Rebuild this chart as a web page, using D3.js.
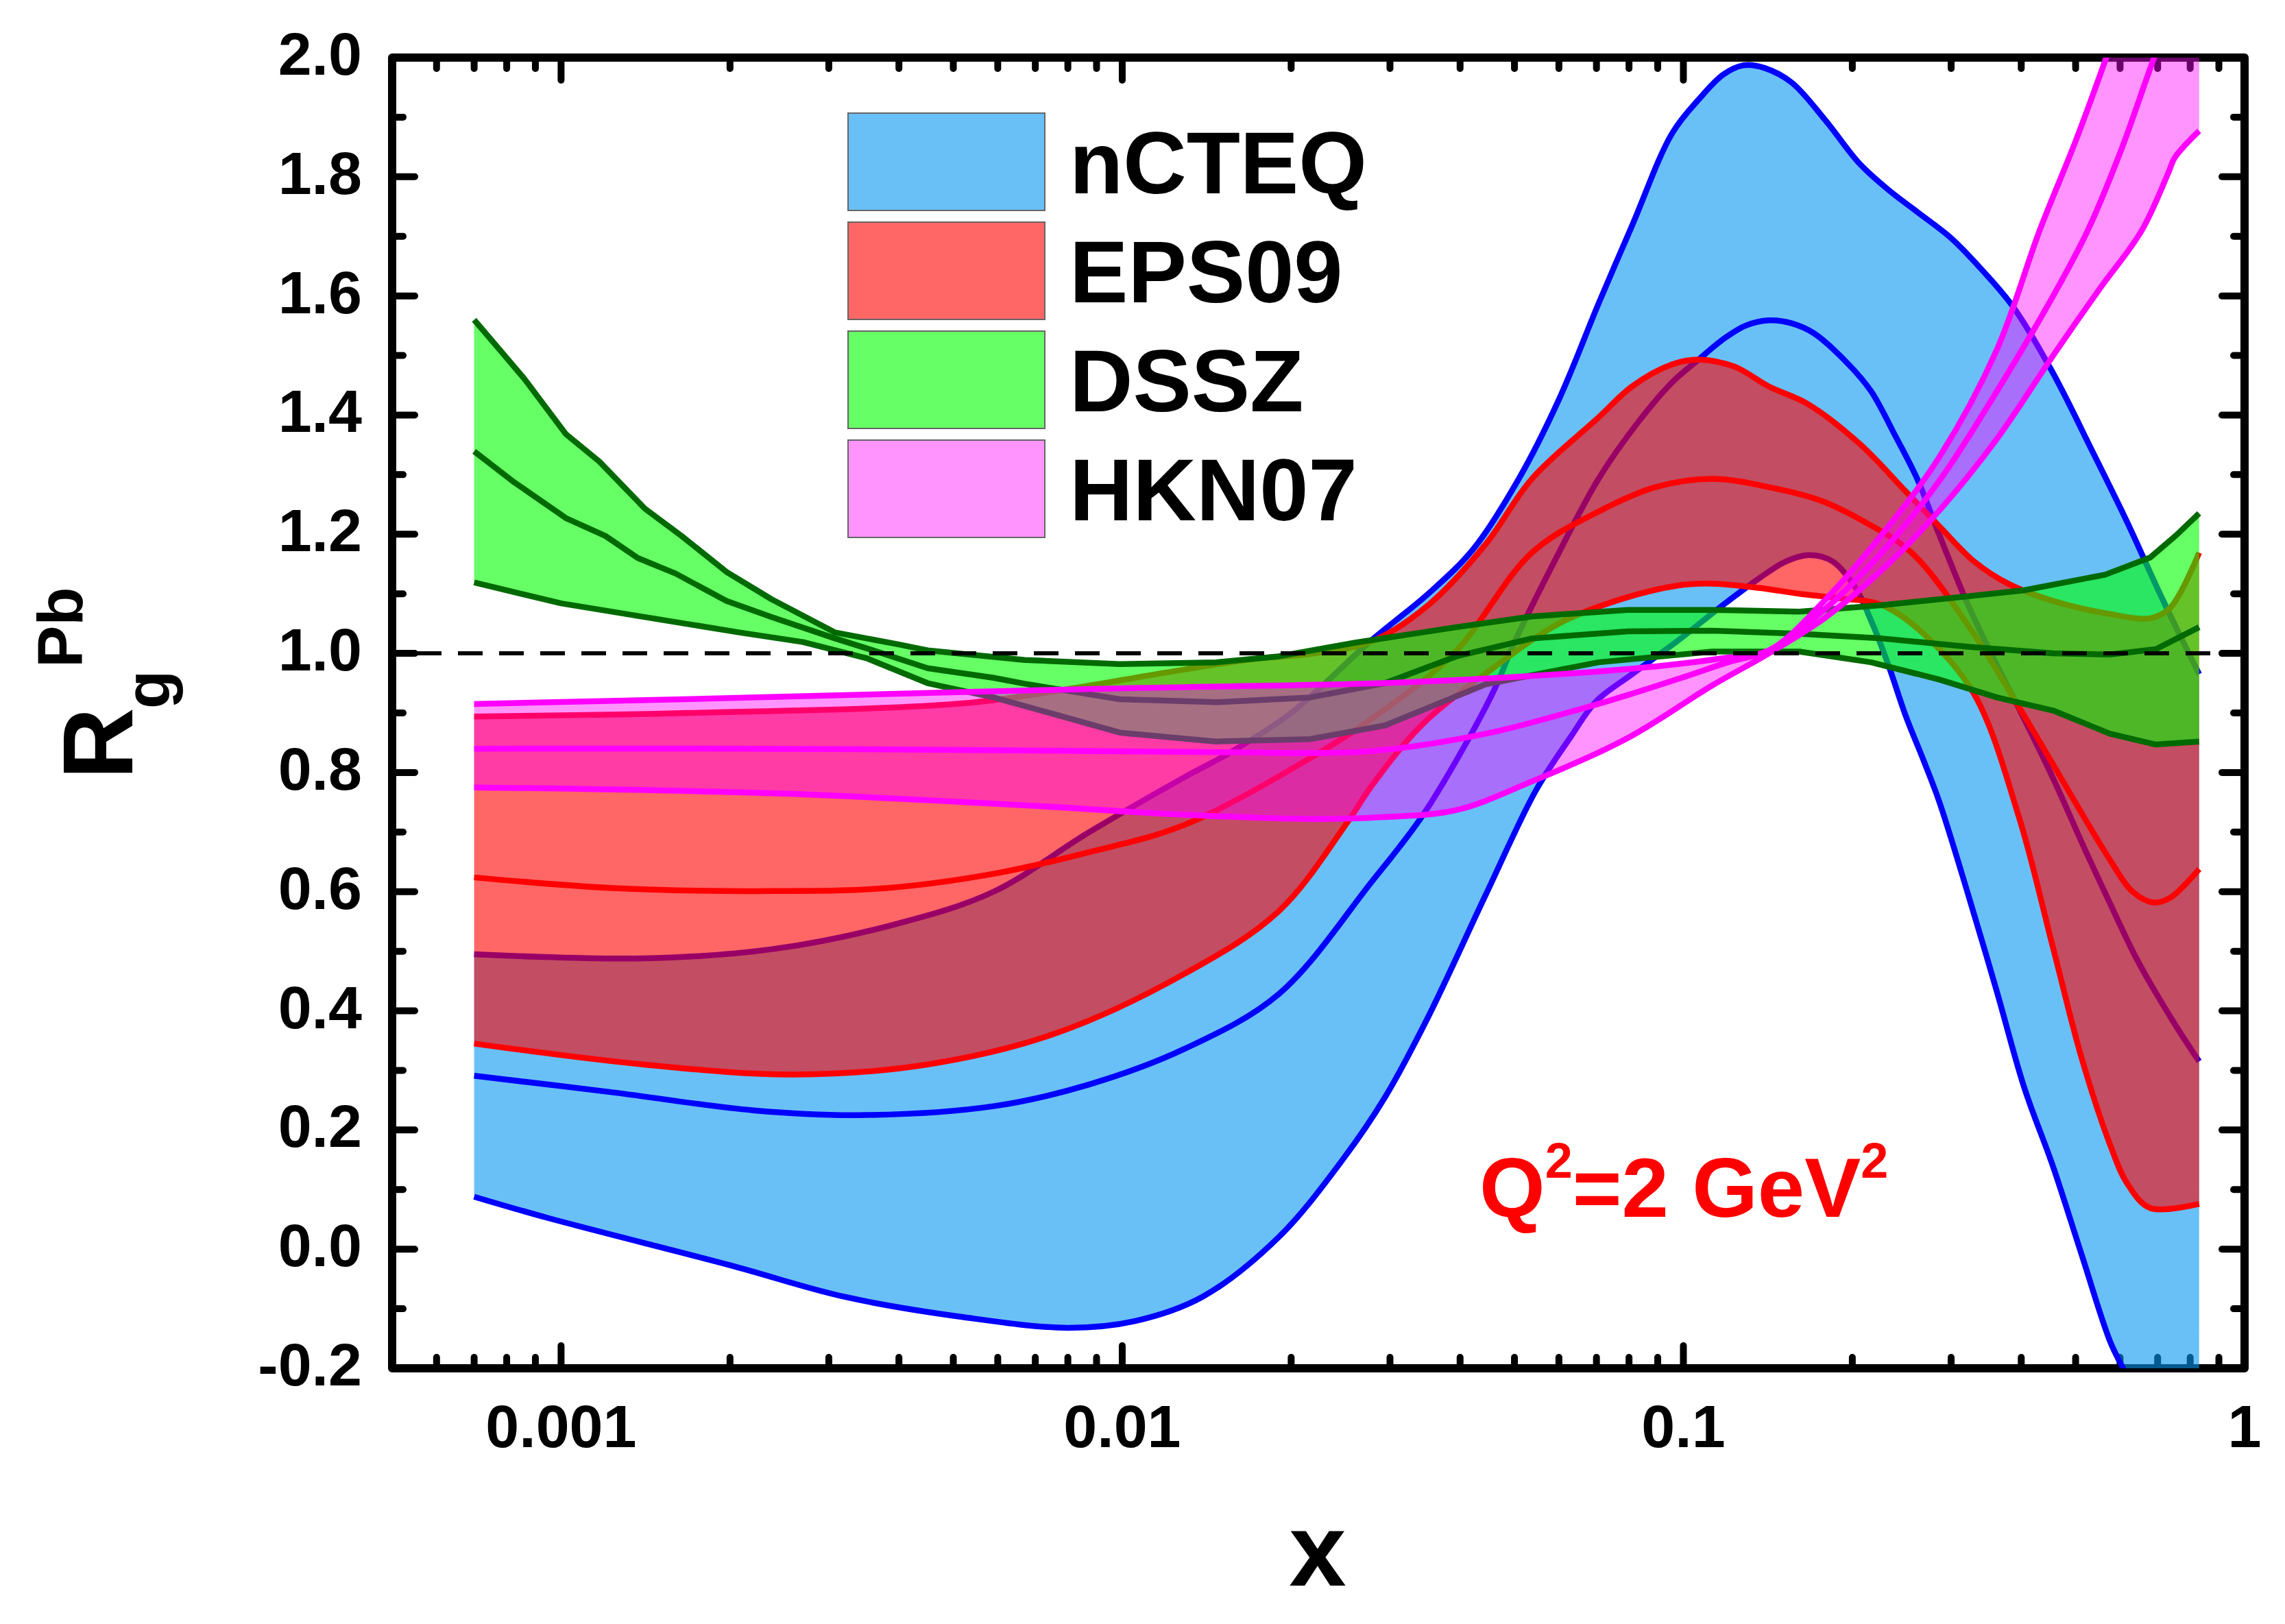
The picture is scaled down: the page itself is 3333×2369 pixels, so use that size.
<!DOCTYPE html>
<html lang="en">
<head>
<meta charset="UTF-8">
<title>R_g^Pb at Q2 = 2 GeV2</title>
<script src="https://cdnjs.cloudflare.com/ajax/libs/d3/7.8.5/d3.min.js"></script>
<style>
  body { margin: 0; background: #fff; }
  svg { display: block; font-family: Arial, "Liberation Sans", sans-serif; font-weight: bold; }
</style>
</head>
<body>
<svg width="3333" height="2369"></svg>
<script>
// ---- data (x, R) ----
const xTickValues = [0.001, 0.01, 0.1, 1];
const xTickLabels = ["0.001", "0.01", "0.1", "1"];
const yTickValues = [-0.2, 0.0, 0.2, 0.4, 0.6, 0.8, 1.0, 1.2, 1.4, 1.6, 1.8, 2.0];
const yTickLabels = ["-0.2", "0.0", "0.2", "0.4", "0.6", "0.8", "1.0", "1.2", "1.4", "1.6", "1.8", "2.0"];
const legendNames = ["nCTEQ", "EPS09", "DSSZ", "HKN07"];

const nCTEQ_upper = [[0.0007,0.495],[0.0014,0.488],[0.0024,0.504],[0.004,0.547],[0.0059,0.600],[0.0087,0.699],[0.0129,0.792],[0.0154,0.831],[0.02,0.90],[0.0278,1.022],[0.0351,1.10],[0.0423,1.176],[0.0509,1.293],[0.060,1.426],[0.0706,1.587],[0.0811,1.719],[0.0955,1.873],[0.107,1.932],[0.118,1.972],[0.128,1.987],[0.140,1.982],[0.156,1.958],[0.179,1.895],[0.206,1.822],[0.232,1.778],[0.261,1.741],[0.300,1.697],[0.344,1.639],[0.388,1.580],[0.456,1.470],[0.537,1.337],[0.618,1.220],[0.71,1.096],[0.83,0.965]];
const nCTEQ_central = [[0.0007,0.291],[0.00124,0.263],[0.0022,0.233],[0.0034,0.225],[0.0059,0.240],[0.0087,0.276],[0.0129,0.336],[0.019,0.428],[0.0278,0.616],[0.0342,0.726],[0.0415,0.858],[0.0464,0.946],[0.0498,1.015],[0.060,1.169],[0.0706,1.293],[0.0832,1.389],[0.0955,1.455],[0.107,1.495],[0.118,1.528],[0.129,1.550],[0.142,1.559],[0.156,1.554],[0.171,1.537],[0.197,1.485],[0.216,1.44],[0.238,1.367],[0.261,1.293],[0.286,1.198],[0.322,1.08],[0.362,0.98],[0.40,0.90],[0.456,0.79],[0.52,0.67],[0.576,0.58],[0.64,0.49],[0.695,0.43],[0.76,0.37],[0.83,0.315]];
const nCTEQ_lower = [[0.0007,0.088],[0.00095,0.052],[0.002,-0.027],[0.0032,-0.080],[0.0052,-0.114],[0.008,-0.132],[0.0105,-0.121],[0.0139,-0.080],[0.019,0.02],[0.0247,0.15],[0.0294,0.255],[0.0351,0.39],[0.0444,0.594],[0.0546,0.770],[0.063,0.86],[0.070,0.92],[0.081,0.965],[0.098,1.022],[0.115,1.074],[0.136,1.125],[0.152,1.154],[0.167,1.165],[0.184,1.155],[0.202,1.112],[0.216,1.055],[0.232,0.980],[0.249,0.895],[0.268,0.82],[0.286,0.75],[0.322,0.594],[0.362,0.432],[0.405,0.271],[0.456,0.138],[0.512,-0.008],[0.576,-0.155],[0.611,-0.205],[0.7,-0.33],[0.83,-0.48]];

const EPS09_upper = [[0.0007,0.894],[0.0017,0.900],[0.0052,0.916],[0.008,0.94],[0.012,0.968],[0.017,0.99],[0.022,1.0],[0.0278,1.02],[0.0351,1.081],[0.0444,1.183],[0.0537,1.293],[0.0706,1.396],[0.081,1.448],[0.0955,1.485],[0.107,1.493],[0.1235,1.481],[0.142,1.448],[0.167,1.418],[0.206,1.352],[0.249,1.272],[0.286,1.213],[0.33,1.154],[0.379,1.117],[0.456,1.088],[0.576,1.066],[0.679,1.059],[0.738,1.077],[0.83,1.169]];
const EPS09_central = [[0.0007,0.624],[0.00124,0.606],[0.0024,0.601],[0.0038,0.606],[0.0059,0.630],[0.0087,0.666],[0.0129,0.712],[0.0216,0.824],[0.0278,0.89],[0.039,1.0],[0.0537,1.169],[0.0706,1.238],[0.0892,1.279],[0.1125,1.293],[0.142,1.279],[0.175,1.257],[0.211,1.220],[0.255,1.169],[0.32,1.05],[0.414,0.88],[0.49,0.763],[0.576,0.653],[0.63,0.601],[0.687,0.582],[0.738,0.590],[0.83,0.638]];
const EPS09_lower = [[0.0007,0.345],[0.0014,0.310],[0.0026,0.293],[0.0045,0.310],[0.0076,0.362],[0.0129,0.462],[0.019,0.567],[0.0253,0.719],[0.0278,0.777],[0.0342,0.88],[0.045,0.97],[0.06,1.05],[0.0757,1.088],[0.098,1.114],[0.1125,1.117],[0.136,1.110],[0.164,1.099],[0.192,1.092],[0.226,1.081],[0.27,1.03],[0.33,0.931],[0.396,0.726],[0.456,0.505],[0.512,0.322],[0.576,0.175],[0.618,0.110],[0.679,0.069],[0.83,0.076]];

const DSSZ_upper = [[0.0007,1.56],[0.00086,1.461],[0.00102,1.368],[0.00117,1.322],[0.00141,1.243],[0.00164,1.197],[0.00197,1.137],[0.00237,1.091],[0.00308,1.035],[0.004,1.015],[0.0045,1.005],[0.0067,0.989],[0.0099,0.982],[0.0147,0.985],[0.019,0.995],[0.026,1.018],[0.0394,1.044],[0.0537,1.062],[0.0796,1.073],[0.1125,1.073],[0.161,1.070],[0.226,1.081],[0.322,1.096],[0.405,1.106],[0.564,1.132],[0.679,1.161],[0.755,1.198],[0.83,1.235]];
const DSSZ_central = [[0.0007,1.339],[0.00082,1.289],[0.00102,1.227],[0.0012,1.197],[0.00137,1.160],[0.0016,1.134],[0.00197,1.088],[0.00237,1.061],[0.00308,1.025],[0.0036,1.005],[0.0045,0.975],[0.0059,0.959],[0.0067,0.949],[0.0099,0.923],[0.0147,0.918],[0.0216,0.926],[0.0294,0.950],[0.0394,0.995],[0.0537,1.025],[0.0796,1.037],[0.1125,1.038],[0.161,1.033],[0.226,1.025],[0.322,1.011],[0.456,1.0],[0.576,0.998],[0.695,1.007],[0.83,1.044]];
const DSSZ_lower = [[0.0007,1.119],[0.001,1.084],[0.00141,1.061],[0.00208,1.035],[0.0027,1.019],[0.0035,0.992],[0.0045,0.950],[0.0059,0.926],[0.0079,0.893],[0.0099,0.867],[0.0147,0.852],[0.0216,0.856],[0.0294,0.879],[0.0444,0.948],[0.0706,0.985],[0.1125,1.003],[0.161,1.003],[0.216,0.985],[0.286,0.956],[0.362,0.926],[0.456,0.904],[0.576,0.865],[0.695,0.847],[0.83,0.852]];

const HKN07_upper = [[0.0007,0.915],[0.002,0.925],[0.0052,0.935],[0.0107,0.942],[0.029,0.950],[0.0537,0.962],[0.089,0.978],[0.118,0.992],[0.142,1.005],[0.179,1.09],[0.226,1.20],[0.286,1.33],[0.362,1.51],[0.431,1.709],[0.50,1.86],[0.567,2.0],[0.7,2.25],[0.83,2.45]];
const HKN07_central = [[0.0007,0.840],[0.0022,0.840],[0.0067,0.837],[0.015,0.834],[0.0278,0.836],[0.0444,0.865],[0.063,0.902],[0.0796,0.93],[0.1,0.96],[0.12,0.985],[0.142,1.005],[0.179,1.075],[0.226,1.17],[0.286,1.29],[0.362,1.44],[0.456,1.60],[0.525,1.709],[0.60,1.84],[0.69,2.0],[0.83,2.2]];
const HKN07_lower = [[0.0007,0.775],[0.0024,0.765],[0.0067,0.745],[0.0129,0.729],[0.0216,0.722],[0.029,0.725],[0.0394,0.737],[0.0537,0.785],[0.0796,0.858],[0.1125,0.946],[0.142,1.0],[0.179,1.06],[0.226,1.14],[0.286,1.24],[0.362,1.36],[0.456,1.50],[0.55,1.61],[0.655,1.709],[0.731,1.806],[0.751,1.832],[0.83,1.877]];

// ---- layout ----
const svg = d3.select("svg");
const plot = { left: 572, right: 3274, top: 84, bottom: 1996 };

const x = d3.scaleLog().domain([0.0005, 1]).range([plot.left, plot.right]);
const y = d3.scaleLinear().domain([-0.2, 2.0]).range([plot.bottom, plot.top]);

const bands = [
    { name: "nCTEQ", fill: "rgb(5,150,240)", alpha: 0.6, stroke: "#0000ff", curve: d3.curveCatmullRom.alpha(0.5),
      upper: nCTEQ_upper, central: nCTEQ_central, lower: nCTEQ_lower },
    { name: "EPS09", fill: "rgb(255,0,0)", alpha: 0.6, stroke: "#ff0000", curve: d3.curveCatmullRom.alpha(0.5),
      upper: EPS09_upper, central: EPS09_central, lower: EPS09_lower },
    { name: "DSSZ", fill: "rgb(0,255,0)", alpha: 0.6, stroke: "#006a00", curve: d3.curveLinear,
      upper: DSSZ_upper, central: DSSZ_central, lower: DSSZ_lower },
    { name: "HKN07", fill: "rgb(255,0,255)", alpha: 0.42, stroke: "#ff00ff", curve: d3.curveCatmullRom.alpha(0.5),
      upper: HKN07_upper, central: HKN07_central, lower: HKN07_lower }
];

svg.append("rect").attr("width", 3333).attr("height", 2369).attr("fill", "#fff");

// frame + ticks (drawn first, the bands cover their inner half)
const axes = svg.append("g").attr("stroke", "#000").attr("stroke-linecap", "round");

const majorLen = 33, minorLen = 16;
const xMinor = [];
[0.0001, 0.001, 0.01, 0.1].forEach(dec => {
    for (let k = 2; k <= 9; k++) {
        const v = dec * k;
        if (v > 0.0005 && v < 1) xMinor.push(v);
    }
});
const xMajor = xTickValues.filter(v => v < 1);

function xTick(v, len) {
    axes.append("line").attr("x1", x(v)).attr("x2", x(v))
        .attr("y1", plot.bottom).attr("y2", plot.bottom - len).attr("stroke-width", 10);
    axes.append("line").attr("x1", x(v)).attr("x2", x(v))
        .attr("y1", plot.top).attr("y2", plot.top + len).attr("stroke-width", 10);
}
xMinor.forEach(v => xTick(v, minorLen));
xMajor.forEach(v => xTick(v, majorLen));

const yMinor = d3.range(-0.1, 2.0, 0.2);
function yTick(v, len) {
    axes.append("line").attr("y1", y(v)).attr("y2", y(v))
        .attr("x1", plot.left).attr("x2", plot.left + len).attr("stroke-width", 10);
    axes.append("line").attr("y1", y(v)).attr("y2", y(v))
        .attr("x1", plot.right).attr("x2", plot.right - len).attr("stroke-width", 10);
}
yMinor.forEach(v => yTick(v, minorLen));
yTickValues.filter(v => v > -0.2 && v < 2.0).forEach(v => yTick(v, majorLen));

axes.append("rect")
    .attr("x", plot.left).attr("y", plot.top)
    .attr("width", plot.right - plot.left).attr("height", plot.bottom - plot.top)
    .attr("fill", "none").attr("stroke-width", 12).attr("stroke-linejoin", "round");

// tick labels
const labels = svg.append("g").attr("font-size", 88).attr("fill", "#000");
yTickValues.forEach((v, i) => {
    labels.append("text").attr("x", 528).attr("y", y(v) + 25)
        .attr("text-anchor", "end").text(yTickLabels[i]);
});
xTickValues.forEach((v, i) => {
    labels.append("text").attr("x", x(v)).attr("y", 2111)
        .attr("text-anchor", "middle").text(xTickLabels[i]);
});

// bands
svg.append("clipPath").attr("id", "plot-clip")
    .append("rect")
    .attr("x", plot.left).attr("y", plot.top)
    .attr("width", plot.right - plot.left).attr("height", plot.bottom - plot.top);

const layer = svg.append("g").attr("clip-path", "url(#plot-clip)");

bands.forEach(b => {
    const line = d3.line().x(d => x(d[0])).y(d => y(d[1])).curve(b.curve);
    const top = line(b.upper);
    const bottom = line(b.lower.slice().reverse());
    layer.append("path")
        .attr("d", top + "L" + bottom.slice(1) + "Z")
        .attr("fill", b.fill).attr("fill-opacity", b.alpha).attr("stroke", "none");
    [b.lower, b.central, b.upper].forEach(pts => {
        layer.append("path").attr("d", line(pts))
            .attr("fill", "none").attr("stroke", b.stroke).attr("stroke-width", 8.5)
            .attr("stroke-linejoin", "round");
    });
});

// R = 1 reference line
layer.append("line")
    .attr("x1", plot.left + 36).attr("x2", plot.right)
    .attr("y1", y(1)).attr("y2", y(1))
    .attr("stroke", "#000").attr("stroke-width", 6).attr("stroke-dasharray", "36,24");

// legend
const legend = svg.append("g");
const boxTops = [165, 324, 483, 642];
bands.forEach((b, i) => {
    legend.append("rect")
        .attr("x", 1237).attr("y", boxTops[i]).attr("width", 287).attr("height", 142)
        .attr("fill", b.fill).attr("fill-opacity", b.alpha)
        .attr("stroke", "#666").attr("stroke-width", 2);
    legend.append("text")
        .attr("x", 1560).attr("y", boxTops[i] + 71 + 46)
        .attr("font-size", 128).attr("fill", "#000")
        .text(legendNames[i]);
});

// annotation Q^2 = 2 GeV^2
const q = svg.append("text").attr("x", 2158).attr("y", 1775)
    .attr("font-size", 123).attr("fill", "#ff0000");
q.append("tspan").text("Q");
q.append("tspan").attr("font-size", 72).attr("dy", -57).text("2");
q.append("tspan").attr("dy", 57).text("=2 GeV");
q.append("tspan").attr("font-size", 72).attr("dy", -57).text("2");

// axis titles
svg.append("text").attr("x", 1922).attr("y", 2313)
    .attr("text-anchor", "middle").attr("font-size", 150).text("x");

svg.append("text").attr("transform", "translate(193,1137) rotate(-90)")
    .attr("font-size", 145).text("R");
svg.append("text").attr("transform", "translate(248,1034) rotate(-90)")
    .attr("font-size", 92).text("g");
svg.append("text").attr("transform", "translate(120,974) rotate(-90)")
    .attr("font-size", 92).text("Pb");
</script>
</body>
</html>
